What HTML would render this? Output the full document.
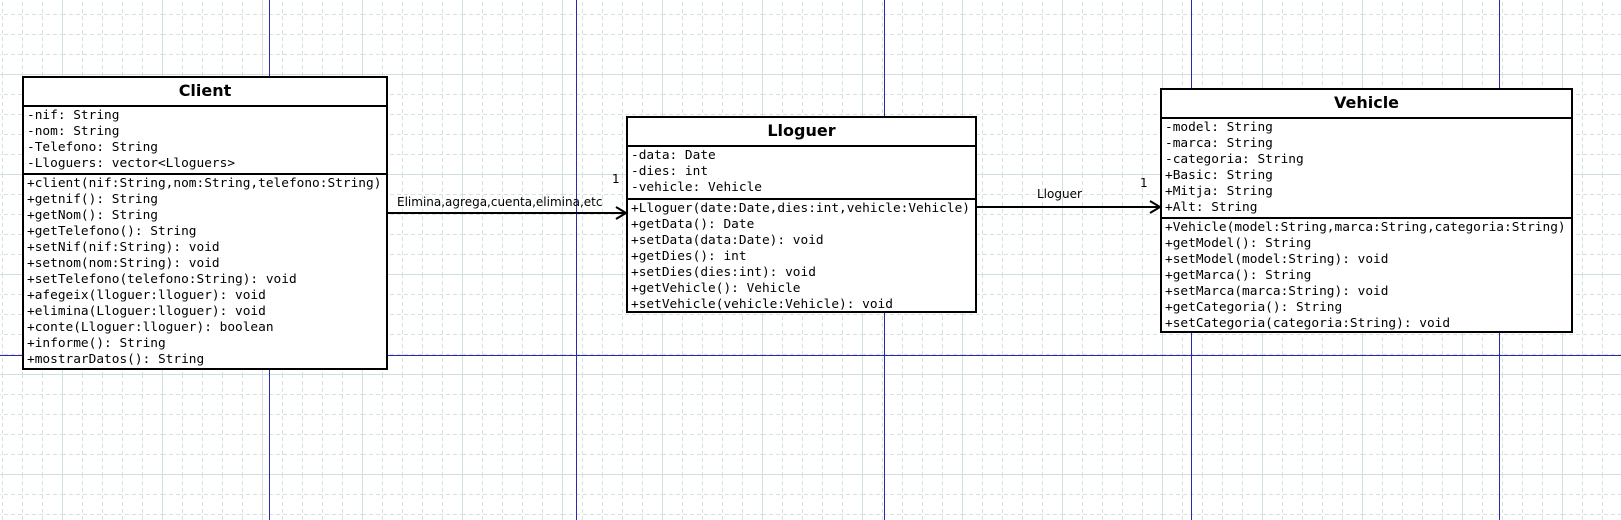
<!DOCTYPE html>
<html><head><meta charset="utf-8">
<style>
html,body{margin:0;padding:0;}
body{width:1621px;height:520px;position:relative;overflow:hidden;background:#fff;}
.v{position:absolute;top:0;width:1px;height:520px;background:#2a2aa8;}
.h{position:absolute;left:0;height:1px;width:1621px;background:#2a2aa8;top:355px;}
.box{position:absolute;border:2px solid #000;background:#fff;box-sizing:border-box;}
.t{font-family:"DejaVu Sans","Liberation Sans",sans-serif;font-weight:bold;font-size:16px;text-align:center;border-bottom:2.5px solid #000;box-sizing:border-box;line-height:25px;}
.s{font-family:"DejaVu Sans Mono","Liberation Mono",monospace;font-size:12.8px;line-height:16px;padding:1px 0 0 3px;white-space:pre;box-sizing:border-box;}
.s1{border-bottom:2.5px solid #000;}
.lbl{position:absolute;font-family:"DejaVu Sans","Liberation Sans",sans-serif;font-size:12px;white-space:pre;}
</style></head><body>
<svg style="position:absolute;left:0;top:0" width="1621" height="520">
<defs>
<pattern id="g" width="100" height="100" patternUnits="userSpaceOnUse" patternTransform="translate(62,74)">
<g stroke="#d3e3e1" stroke-width="1" stroke-dasharray="4,3" fill="none">
<line x1="20.5" y1="0" x2="20.5" y2="100"/><line x1="40.5" y1="0" x2="40.5" y2="100"/>
<line x1="60.5" y1="0" x2="60.5" y2="100"/><line x1="80.5" y1="0" x2="80.5" y2="100"/>
<line y1="20.5" x1="0" y2="20.5" x2="100"/><line y1="40.5" x1="0" y2="40.5" x2="100"/>
<line y1="60.5" x1="0" y2="60.5" x2="100"/><line y1="80.5" x1="0" y2="80.5" x2="100"/>
</g>
<g stroke="#cfe0dd" stroke-width="1" fill="none">
<line x1="0.5" y1="0" x2="0.5" y2="100"/><line y1="0.5" x1="0" y2="0.5" x2="100"/>
</g>
</pattern>
</defs>
<rect width="1621" height="520" fill="url(#g)"/>
</svg>
<div class="v" style="left:269px"></div>
<div class="v" style="left:576px"></div>
<div class="v" style="left:884px"></div>
<div class="v" style="left:1191px"></div>
<div class="v" style="left:1499px"></div>
<div class="h"></div>

<div class="box" style="left:22px;top:76px;width:366px;height:294px;">
<div class="t" style="height:29px">Client</div>
<div class="s s1" style="height:68px">-nif: String
-nom: String
-Telefono: String
-Lloguers: vector&lt;Lloguers&gt;</div>
<div class="s">+client(nif:String,nom:String,telefono:String)
+getnif(): String
+getNom(): String
+getTelefono(): String
+setNif(nif:String): void
+setnom(nom:String): void
+setTelefono(telefono:String): void
+afegeix(lloguer:lloguer): void
+elimina(Lloguer:lloguer): void
+conte(Lloguer:lloguer): boolean
+informe(): String
+mostrarDatos(): String</div>
</div>

<div class="box" style="left:626px;top:116px;width:351px;height:197px;">
<div class="t" style="height:29px">Lloguer</div>
<div class="s s1" style="height:53px">-data: Date
-dies: int
-vehicle: Vehicle</div>
<div class="s">+Lloguer(date:Date,dies:int,vehicle:Vehicle)
+getData(): Date
+setData(data:Date): void
+getDies(): int
+setDies(dies:int): void
+getVehicle(): Vehicle
+setVehicle(vehicle:Vehicle): void</div>
</div>

<div class="box" style="left:1160px;top:88px;width:413px;height:245px;">
<div class="t" style="height:29px">Vehicle</div>
<div class="s s1" style="height:100px">-model: String
-marca: String
-categoria: String
+Basic: String
+Mitja: String
+Alt: String</div>
<div class="s">+Vehicle(model:String,marca:String,categoria:String)
+getModel(): String
+setModel(model:String): void
+getMarca(): String
+setMarca(marca:String): void
+getCategoria(): String
+setCategoria(categoria:String): void</div>
</div>

<svg style="position:absolute;left:0;top:0" width="1621" height="520">
<line x1="388" y1="213" x2="626" y2="213" stroke="#000" stroke-width="2"/>
<polyline points="616,207 626,213 616,219" fill="none" stroke="#000" stroke-width="2"/>
<line x1="977" y1="207" x2="1160" y2="207" stroke="#000" stroke-width="2"/>
<polyline points="1150,201 1160,207 1150,213" fill="none" stroke="#000" stroke-width="2"/>
</svg>
<div class="lbl" style="left:397px;top:195px">Elimina,agrega,cuenta,elimina,etc</div>
<div class="lbl" style="left:612px;top:172px">1</div>
<div class="lbl" style="left:1037px;top:187px">Lloguer</div>
<div class="lbl" style="left:1140px;top:176px">1</div>
</body></html>
